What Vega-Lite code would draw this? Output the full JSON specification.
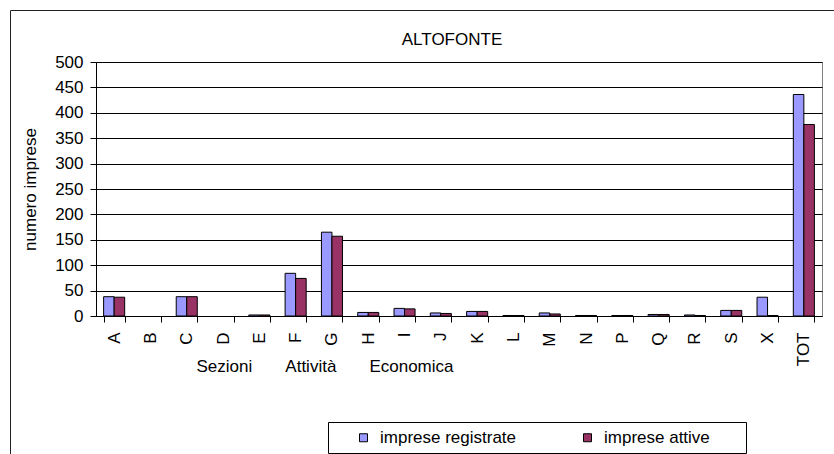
{
  "$schema": "https://vega.github.io/schema/vega-lite/v6.json",
  "autosize": {"type": "none"},
  "padding": {"left": 96, "top": 62, "right": 12, "bottom": 138},
  "width": 726,
  "height": 254,
  "background": "white",
  "title": {
    "text": "ALTOFONTE",
    "fontSize": 17,
    "fontWeight": "normal",
    "color": "black",
    "anchor": "middle",
    "dx": -7,
    "dy": 58,
    "offset": 6,
    "baseline": "alphabetic"
  },
  "data": {
    "values": [
      {"sezione": "A", "serie": "imprese registrate", "valore": 38},
      {"sezione": "A", "serie": "imprese attive", "valore": 37},
      {"sezione": "B", "serie": "imprese registrate", "valore": 0},
      {"sezione": "B", "serie": "imprese attive", "valore": 0},
      {"sezione": "C", "serie": "imprese registrate", "valore": 38},
      {"sezione": "C", "serie": "imprese attive", "valore": 38},
      {"sezione": "D", "serie": "imprese registrate", "valore": 0},
      {"sezione": "D", "serie": "imprese attive", "valore": 0},
      {"sezione": "E", "serie": "imprese registrate", "valore": 2},
      {"sezione": "E", "serie": "imprese attive", "valore": 2},
      {"sezione": "F", "serie": "imprese registrate", "valore": 84},
      {"sezione": "F", "serie": "imprese attive", "valore": 74},
      {"sezione": "G", "serie": "imprese registrate", "valore": 165},
      {"sezione": "G", "serie": "imprese attive", "valore": 157},
      {"sezione": "H", "serie": "imprese registrate", "valore": 7},
      {"sezione": "H", "serie": "imprese attive", "valore": 7},
      {"sezione": "I", "serie": "imprese registrate", "valore": 15},
      {"sezione": "I", "serie": "imprese attive", "valore": 14},
      {"sezione": "J", "serie": "imprese registrate", "valore": 6},
      {"sezione": "J", "serie": "imprese attive", "valore": 5},
      {"sezione": "K", "serie": "imprese registrate", "valore": 9},
      {"sezione": "K", "serie": "imprese attive", "valore": 9},
      {"sezione": "L", "serie": "imprese registrate", "valore": 1},
      {"sezione": "L", "serie": "imprese attive", "valore": 1},
      {"sezione": "M", "serie": "imprese registrate", "valore": 6},
      {"sezione": "M", "serie": "imprese attive", "valore": 4},
      {"sezione": "N", "serie": "imprese registrate", "valore": 1},
      {"sezione": "N", "serie": "imprese attive", "valore": 1},
      {"sezione": "P", "serie": "imprese registrate", "valore": 1},
      {"sezione": "P", "serie": "imprese attive", "valore": 1},
      {"sezione": "Q", "serie": "imprese registrate", "valore": 3},
      {"sezione": "Q", "serie": "imprese attive", "valore": 3},
      {"sezione": "R", "serie": "imprese registrate", "valore": 2},
      {"sezione": "R", "serie": "imprese attive", "valore": 1},
      {"sezione": "S", "serie": "imprese registrate", "valore": 11},
      {"sezione": "S", "serie": "imprese attive", "valore": 11},
      {"sezione": "X", "serie": "imprese registrate", "valore": 37},
      {"sezione": "X", "serie": "imprese attive", "valore": 1},
      {"sezione": "TOT", "serie": "imprese registrate", "valore": 436},
      {"sezione": "TOT", "serie": "imprese attive", "valore": 377}
    ]
  },
  "mark": {"type": "bar", "stroke": "black"},
  "encoding": {
    "x": {
      "field": "sezione",
      "type": "nominal",
      "sort": null,
      "scale": {"paddingInner": 0.42, "paddingOuter": 0.21},
      "axis": {
        "title": "Sezioni\u00a0\u00a0\u00a0\u00a0\u00a0\u00a0\u00a0Attività\u00a0\u00a0\u00a0\u00a0\u00a0\u00a0\u00a0Economica",
        "labelAngle": -90,
        "labelPadding": 10,
        "ticks": true,
        "tickBand": "extent",
        "tickSize": 6,
        "titleX": 228.5,
        "titleY": 55,
        "titleAlign": "center",
        "titleBaseline": "alphabetic",
        "titleAnchor": null
      }
    },
    "xOffset": {
      "field": "serie",
      "type": "nominal",
      "sort": ["imprese registrate", "imprese attive"],
      "scale": {"paddingInner": 0, "paddingOuter": 0}
    },
    "y": {
      "field": "valore",
      "type": "quantitative",
      "scale": {"domain": [0, 500], "nice": false},
      "axis": {
        "title": "numero imprese",
        "values": [0, 50, 100, 150, 200, 250, 300, 350, 400, 450, 500],
        "grid": true,
        "tickSize": 6,
        "labelPadding": 7,
        "titleX": -61,
        "titleY": 127,
        "titleAlign": "center",
        "titleBaseline": "alphabetic",
        "titleAngle": -90
      }
    },
    "opacity": {
      "condition": {"test": "datum.valore == 0", "value": 0},
      "value": 1
    },
    "strokeWidth": {
      "field": "valore",
      "type": "quantitative",
      "scale": {"range": [1, 1]},
      "legend": {
        "title": null,
        "orient": "none",
        "legendX": -86,
        "legendY": -52,
        "padding": 1200,
        "strokeColor": "#222222",
        "fillColor": null,
        "labelExpr": "''",
        "symbolOpacity": 0
      }
    },
    "color": {
      "field": "serie",
      "type": "nominal",
      "sort": ["imprese registrate", "imprese attive"],
      "scale": {"domain": ["imprese registrate", "imprese attive"], "range": ["#9999FF", "#993366"]},
      "legend": {
        "title": "\u00a0",
        "titleOrient": "right",
        "titlePadding": 29,
        "titleFontSize": 17,
        "orient": "none",
        "legendX": 232,
        "legendY": 360,
        "direction": "horizontal",
        "columns": 2,
        "strokeColor": "black",
        "fillColor": "white",
        "padding": 7,
        "columnPadding": 42,
        "symbolOffset": 20,
        "symbolType": "square",
        "symbolSize": 64,
        "symbolOpacity": 1,
        "symbolStrokeColor": "black",
        "symbolStrokeWidth": 1,
        "labelOffset": 8,
        "labelFontSize": 17,
        "labelColor": "black"
      }
    }
  },
  "config": {
    "font": "Liberation Sans",
    "view": {"stroke": "#808080", "strokeWidth": 1},
    "axis": {
      "labelFontSize": 17,
      "labelColor": "black",
      "titleFontSize": 17,
      "titleFontWeight": "normal",
      "titleColor": "black",
      "domainColor": "black",
      "tickColor": "black",
      "gridColor": "black",
      "gridOpacity": 1,
      "gridWidth": 1
    },
    "axisX": {"grid": false}
  }
}
